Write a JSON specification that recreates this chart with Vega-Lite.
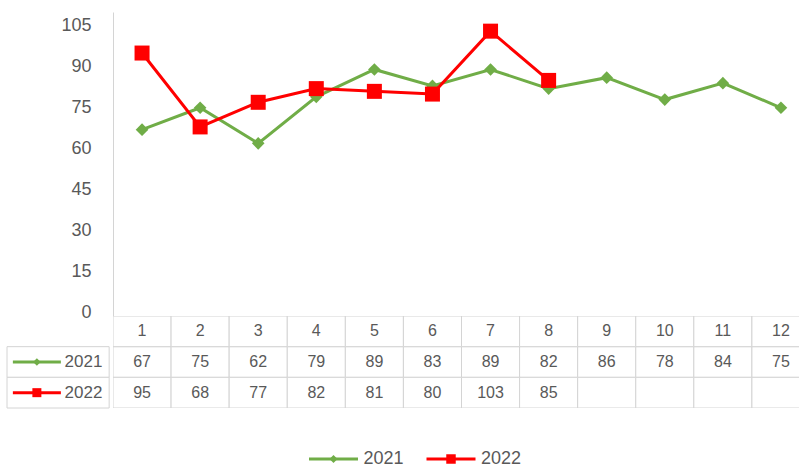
{
  "$schema": "https://vega.github.io/schema/vega-lite/v6.json",
  "background": "white",
  "padding": {"left": 6, "top": 12, "right": 0, "bottom": 0},
  "config": {"view": {"stroke": null}, "font": "Liberation Sans"},
  "datasets": {
    "sales": [
      {"month": 1, "year": "2021", "value": 67},
      {"month": 2, "year": "2021", "value": 75},
      {"month": 3, "year": "2021", "value": 62},
      {"month": 4, "year": "2021", "value": 79},
      {"month": 5, "year": "2021", "value": 89},
      {"month": 6, "year": "2021", "value": 83},
      {"month": 7, "year": "2021", "value": 89},
      {"month": 8, "year": "2021", "value": 82},
      {"month": 9, "year": "2021", "value": 86},
      {"month": 10, "year": "2021", "value": 78},
      {"month": 11, "year": "2021", "value": 84},
      {"month": 12, "year": "2021", "value": 75},
      {"month": 1, "year": "2022", "value": 95},
      {"month": 2, "year": "2022", "value": 68},
      {"month": 3, "year": "2022", "value": 77},
      {"month": 4, "year": "2022", "value": 82},
      {"month": 5, "year": "2022", "value": 81},
      {"month": 6, "year": "2022", "value": 80},
      {"month": 7, "year": "2022", "value": 103},
      {"month": 8, "year": "2022", "value": 85},
      {"month": 9, "year": "2022", "value": null},
      {"month": 10, "year": "2022", "value": null},
      {"month": 11, "year": "2022", "value": null},
      {"month": 12, "year": "2022", "value": null}
    ]
  },
  "columns": 2,
  "spacing": 0,
  "bounds": "flush",
  "resolve": {"scale": {"x": "independent", "y": "independent", "color": "independent", "shape": "independent", "size": "independent"}},
  "concat": [
    {
      "width": 106,
      "height": 304,
      "data": {"values": [{}]},
      "mark": {"type": "point", "opacity": 0}
    },
    {
      "width": 687,
      "height": 304,
      "data": {"name": "sales"},
      "encoding": {
        "x": {
          "field": "month",
          "type": "ordinal",
          "scale": {"type": "band", "domain": [1, 2, 3, 4, 5, 6, 7, 8, 9, 10, 11, 12], "range": [0, 697], "paddingInner": 0, "paddingOuter": 0},
          "axis": null
        },
        "y": {
          "field": "value",
          "type": "quantitative",
          "scale": {"domain": [-1.1, 110], "nice": false, "zero": false},
          "axis": {
            "values": [0, 15, 30, 45, 60, 75, 90, 105],
            "grid": false,
            "ticks": false,
            "tickSize": 0,
            "domain": true,
            "domainColor": "#d4d4d4",
            "domainWidth": 1,
            "labelFontSize": 18,
            "labelColor": "#595959",
            "labelPadding": 22,
            "title": null
          }
        }
      },
      "layer": [
        {
          "transform": [{"filter": "datum.year == '2021'"}],
          "mark": {"type": "line", "color": "#70AD47", "strokeWidth": 3}
        },
        {
          "transform": [{"filter": "datum.year == '2021'"}],
          "mark": {"type": "point", "shape": "diamond", "filled": true, "opacity": 1, "color": "#70AD47", "size": 160}
        },
        {
          "transform": [{"filter": "datum.year == '2022'"}],
          "mark": {"type": "line", "color": "#FF0000", "strokeWidth": 3}
        },
        {
          "transform": [{"filter": "datum.year == '2022'"}],
          "mark": {"type": "point", "shape": "square", "filled": true, "opacity": 1, "color": "#FF0000", "size": 225}
        }
      ]
    },
    {
      "width": 106,
      "height": 92,
      "data": {"name": "sales"},
      "transform": [{"aggregate": [{"op": "count", "as": "n"}], "groupby": ["year"]}],
      "encoding": {
        "y": {
          "field": "year",
          "type": "nominal",
          "scale": {"type": "band", "domain": ["header", "2021", "2022"], "paddingInner": 0, "paddingOuter": 0},
          "axis": null
        }
      },
      "layer": [
        {
          "mark": {"type": "rect", "fill": "white", "stroke": "#d4d4d4", "strokeWidth": 1},
          "encoding": {
            "x": {"datum": 0, "type": "quantitative", "scale": {"domain": [0, 106]}, "axis": null},
            "x2": {"datum": 106}
          }
        },
        {
          "mark": {"type": "point", "shape": "M-1,0H1", "filled": false, "strokeWidth": 3, "size": 2304, "opacity": 1},
          "encoding": {
            "x": {"datum": 31, "type": "quantitative"},
            "color": {"field": "year", "type": "nominal", "scale": {"domain": ["2021", "2022"], "range": ["#70AD47", "#FF0000"]}, "legend": null}
          }
        },
        {
          "mark": {"type": "point", "filled": true, "opacity": 1},
          "encoding": {
            "x": {"datum": 31, "type": "quantitative"},
            "color": {"field": "year", "type": "nominal", "scale": {"domain": ["2021", "2022"], "range": ["#70AD47", "#FF0000"]}, "legend": null},
            "shape": {"field": "year", "type": "nominal", "scale": {"domain": ["2021", "2022"], "range": ["diamond", "square"]}, "legend": null},
            "size": {"field": "year", "type": "ordinal", "scale": {"domain": ["2021", "2022"], "range": [55, 81]}, "legend": null}
          }
        },
        {
          "mark": {"type": "text", "align": "right", "fontSize": 17, "color": "#595959"},
          "encoding": {
            "x": {"datum": 99, "type": "quantitative"},
            "text": {"field": "year"}
          }
        }
      ]
    },
    {
      "width": 687,
      "height": 92,
      "data": {"name": "sales"},
      "encoding": {
        "x": {
          "field": "month",
          "type": "ordinal",
          "scale": {"type": "band", "domain": [1, 2, 3, 4, 5, 6, 7, 8, 9, 10, 11, 12], "range": [0, 697], "paddingInner": 0, "paddingOuter": 0},
          "axis": null
        }
      },
      "layer": [
        {
          "mark": {"type": "rect", "fill": "white", "stroke": "#d4d4d4", "strokeWidth": 1, "clip": true},
          "encoding": {
            "y": {"field": "year", "type": "nominal", "scale": {"type": "band", "domain": ["header", "2021", "2022"], "paddingInner": 0, "paddingOuter": 0}, "axis": null}
          }
        },
        {
          "transform": [{"filter": "datum.year == '2021'"}],
          "mark": {"type": "rect", "fill": "white", "stroke": "#d4d4d4", "strokeWidth": 1, "clip": true},
          "encoding": {
            "y": {"datum": "header", "type": "nominal"}
          }
        },
        {
          "transform": [{"filter": "datum.year == '2021'"}],
          "mark": {"type": "text", "fontSize": 16, "color": "#595959"},
          "encoding": {
            "y": {"datum": "header", "type": "nominal"},
            "text": {"field": "month"}
          }
        },
        {
          "transform": [{"filter": "datum.value != null"}],
          "mark": {"type": "text", "fontSize": 16, "color": "#595959"},
          "encoding": {
            "y": {"field": "year", "type": "nominal"},
            "text": {"field": "value"}
          }
        }
      ]
    },
    {
      "width": 106,
      "height": 42,
      "data": {"values": [{}]},
      "mark": {"type": "point", "opacity": 0}
    },
    {
      "width": 687,
      "height": 42,
      "data": {"values": [{}]},
      "mark": {"type": "point", "opacity": 0}
    },
    {
      "width": 106,
      "height": 18,
      "data": {"values": [{}]},
      "mark": {"type": "point", "opacity": 0}
    },
    {
      "width": 687,
      "height": 18,
      "data": {"name": "sales"},
      "transform": [{"aggregate": [{"op": "count", "as": "n"}], "groupby": ["year"]}],
      "encoding": {
        "x": {
          "field": "year",
          "type": "nominal",
          "scale": {"type": "point", "domain": ["2021", "2022"], "range": [220.5, 338], "padding": 0},
          "axis": null
        }
      },
      "layer": [
        {
          "mark": {"type": "point", "shape": "M-1,0H1", "filled": false, "strokeWidth": 3, "size": 2401, "opacity": 1},
          "encoding": {
            "color": {"field": "year", "type": "nominal", "scale": {"domain": ["2021", "2022"], "range": ["#70AD47", "#FF0000"]}, "legend": null}
          }
        },
        {
          "mark": {"type": "point", "filled": true, "opacity": 1},
          "encoding": {
            "color": {"field": "year", "type": "nominal", "scale": {"domain": ["2021", "2022"], "range": ["#70AD47", "#FF0000"]}, "legend": null},
            "shape": {"field": "year", "type": "nominal", "scale": {"domain": ["2021", "2022"], "range": ["diamond", "square"]}, "legend": null},
            "size": {"field": "year", "type": "ordinal", "scale": {"domain": ["2021", "2022"], "range": [64, 90]}, "legend": null}
          }
        },
        {
          "mark": {"type": "text", "align": "left", "dx": 30, "fontSize": 18, "color": "#595959"},
          "encoding": {
            "text": {"field": "year"}
          }
        }
      ]
    }
  ]
}
